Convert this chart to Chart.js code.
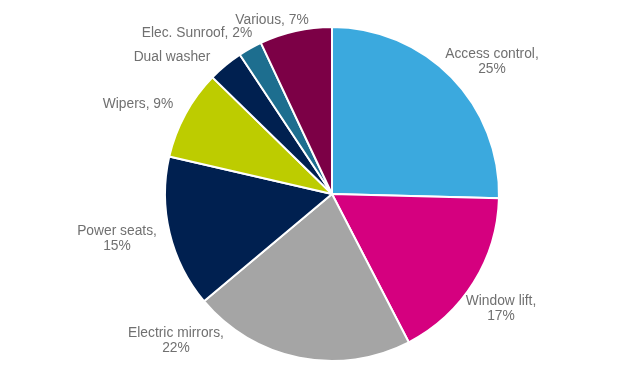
<!DOCTYPE html>
<html><head><meta charset="utf-8">
<script src="https://cdn.jsdelivr.net/npm/chart.js@4/dist/chart.umd.min.js"></script>
<style>html,body{margin:0;padding:0;background:#fff}#wrap{width:620px;height:365px}</style>
</head><body><div id="wrap"><canvas id="c" width="620" height="365"></canvas></div>
<script>
const categories = ["Access control","Window lift","Electric mirrors","Power seats","Wipers","Dual washer","Elec. Sunroof","Various"];
// shares (labels show rounded values)
const shares = [25.4,17.0,21.5,14.7,8.7,3.4,2.3,7.0];
const showPercent = [true,true,true,true,true,false,true,true];
const breakLine = [true,true,true,true,false,false,false,false];
const colors = ["#3BA9DE","#D5007F","#A5A5A5","#002050","#BDCC00","#002050","#1D6E8F","#7C0046"];
// label offsets from pie centre (style)
const labelOffsets = [[160,-132.5],[169,114.5],[-156,146.5],[-215,45],[-194,-90],[-160,-137],[-135,-161],[-60,-174]];

function labelLinesFor(i){
  if(!showPercent[i]) return [categories[i]];
  const pct = Math.round(shares[i]) + '%';
  return breakLine[i] ? [categories[i] + ',', pct] : [categories[i] + ', ' + pct];
}

const labelPlugin = {
  id:'outLabels',
  afterDatasetsDraw(chart){
    const ctx = chart.ctx;
    const meta = chart.getDatasetMeta(0);
    ctx.save();
    ctx.font = '13.8px "Liberation Sans", Arial, sans-serif';
    ctx.fillStyle = '#707070';
    ctx.textAlign = 'center';
    ctx.textBaseline = 'middle';
    meta.data.forEach((arc,i)=>{
      const lines = labelLinesFor(i);
      const cx = arc.x + labelOffsets[i][0];
      const cy = arc.y + labelOffsets[i][1];
      const lh = 15;
      const y0 = cy - (lines.length-1)*lh/2;
      lines.forEach((t,j)=>ctx.fillText(t, cx, y0 + j*lh));
    });
    ctx.restore();
  }
};

new Chart(document.getElementById('c'),{
  type:'pie',
  data:{labels:categories,datasets:[{data:shares,backgroundColor:colors,borderColor:'#ffffff',borderWidth:2}]},
  options:{
    responsive:false,animation:false,
    layout:{padding:{left:44,right:0,top:26,bottom:3}},
    plugins:{legend:{display:false},tooltip:{enabled:false}}
  },
  plugins:[labelPlugin]
});
</script>
</body></html>
